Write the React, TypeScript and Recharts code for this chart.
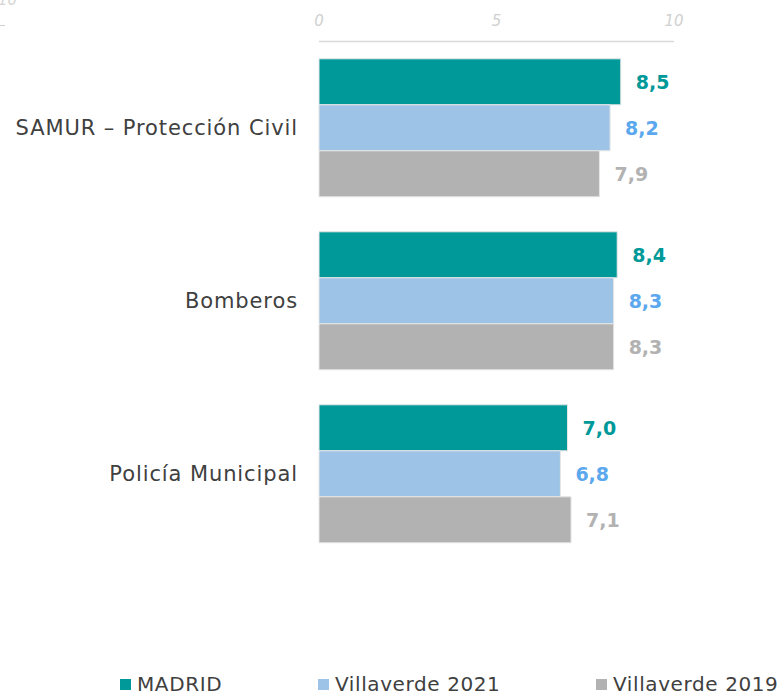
import { BarChart, Bar, XAxis, YAxis, Legend, LabelList } from 'recharts'

const categories = ['SAMUR – Protección Civil', 'Bomberos', 'Policía Municipal']
const madrid = [8.5, 8.4, 7.0]
const villaverde2021 = [8.2, 8.3, 6.8]
const villaverde2019 = [7.9, 8.3, 7.1]
const xTicks = [0, 5, 10]

const SERIES = [
  { key: 'madrid', name: 'MADRID', fill: '#009999', label: '#009999' },
  { key: 'v2021', name: 'Villaverde 2021', fill: '#9dc3e6', label: '#5ba8ee' },
  { key: 'v2019', name: 'Villaverde 2019', fill: '#b2b2b2', label: '#b2b2b2' },
]

const data = categories.map((name, i) => ({
  name,
  madrid: madrid[i],
  v2021: villaverde2021[i],
  v2019: villaverde2019[i],
}))

const FONT = '"DejaVu Sans", sans-serif'
const fmt = (v: any) => Number(v).toFixed(1).replace('.', ',')

// legend items are not evenly spaced in the original
const LEGEND_X = [120, 318, 596]

const renderLegend = () => (
  <div style={{ position: 'relative', height: 20, width: 784, fontFamily: FONT }}>
    {SERIES.map((s, i) => (
      <div
        key={s.key}
        style={{
          position: 'absolute',
          left: LEGEND_X[i],
          top: 0,
          display: 'flex',
          alignItems: 'center',
          height: 20,
          whiteSpace: 'nowrap',
        }}
      >
        <span style={{ display: 'inline-block', width: 11, height: 11, background: s.fill, marginRight: 6 }} />
        <span style={{ fontSize: 20, letterSpacing: 0.6, color: '#404040', lineHeight: '20px' }}>{s.name}</span>
      </div>
    ))}
  </div>
)

export default function App() {
  return (
    <div style={{ position: 'absolute', top: 0, left: 0, width: 784, height: 695, background: '#fff', overflow: 'hidden' }}>
      {/* leftover of a neighbouring chart, cut at the edge */}
      <div style={{ position: 'absolute', left: -2, top: -9, fontFamily: FONT, fontStyle: 'italic', fontSize: 15, color: '#d6d6d6' }}>10</div>
      <div style={{ position: 'absolute', left: 0, top: 25, width: 5, height: 1, background: '#d0d0d0' }} />
      <BarChart
        width={784}
        height={695}
        data={data}
        layout="vertical"
        margin={{ top: 11.5, right: 110, bottom: 114.5, left: 0 }}
        barCategoryGap="10%"
        barGap={0}
      >
        <XAxis
          type="number"
          orientation="top"
          domain={[0, 10]}
          ticks={xTicks}
          tickLine={false}
          tickMargin={10}
          axisLine={{ stroke: '#d9d9d9', strokeWidth: 1.5 }}
          tick={{ fill: '#d0d0d0', fontSize: 15, fontStyle: 'italic', fontFamily: FONT }}
        />
        <YAxis
          type="category"
          dataKey="name"
          width={319}
          axisLine={false}
          tickLine={false}
          tickMargin={15}
          tick={{ fill: '#404040', fontSize: 21, letterSpacing: 0.9, fontFamily: FONT }}
        />
        <Legend verticalAlign="bottom" content={renderLegend} wrapperStyle={{ top: 674, left: 0, width: 784 }} />
        {SERIES.map((s) => (
          <Bar key={s.key} dataKey={s.key} name={s.name} fill={s.fill} stroke="#e6e6e6" strokeWidth={1} isAnimationActive={false}>
            <LabelList
              dataKey={s.key}
              position="right"
              offset={15}
              formatter={fmt}
              style={{ fill: s.label, fontSize: 19, fontWeight: 'bold', fontFamily: FONT }}
            />
          </Bar>
        ))}
      </BarChart>
    </div>
  )
}
